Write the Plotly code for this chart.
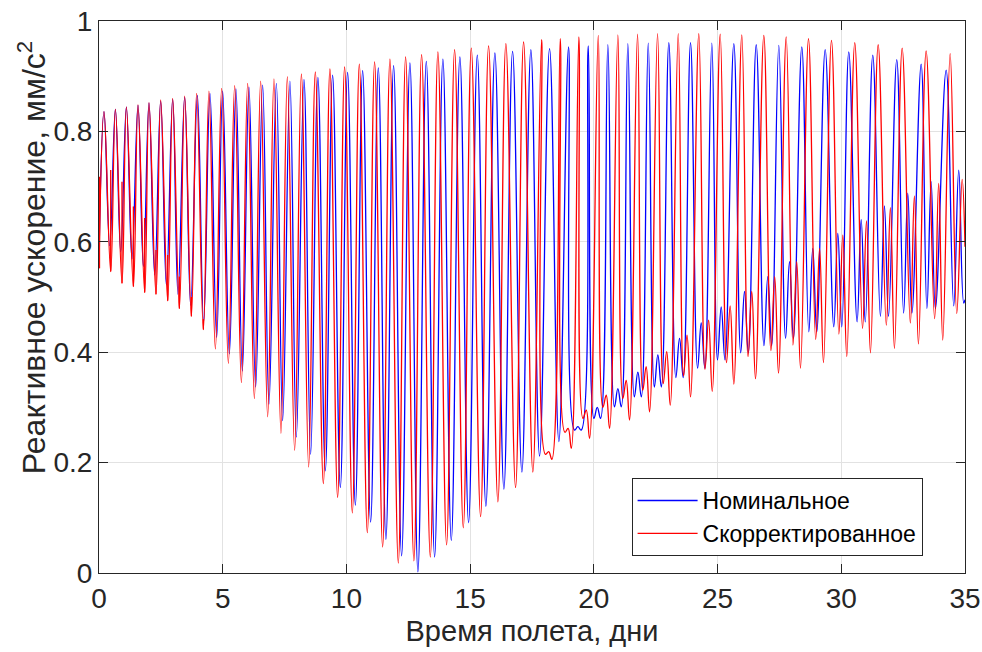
import plotly.graph_objects as go

# ---------------- data (days, mm/s^2) ----------------
# Nominal (blue)
BLUE_START = (0.0, 0.575)
BLUE_PEAK_T = [0.202, 0.663, 1.107, 1.576, 2.020, 2.493, 2.978, 3.463, 3.976, 4.485,
               4.998, 5.535, 6.061, 6.614, 7.168, 7.717, 8.283, 8.848, 9.442, 10.048,
               10.655, 11.289, 11.907, 12.566, 13.228, 13.899, 14.586, 15.289, 16.000, 16.715,
               17.455, 18.210, 18.978, 19.774, 20.566, 21.374, 22.198, 23.030, 23.907, 24.768,
               25.657, 26.562, 27.475, 28.404, 29.349, 30.303, 31.273, 32.242, 33.228, 34.238]
BLUE_PEAK_V = [0.836, 0.840, 0.844, 0.847, 0.851, 0.855, 0.858, 0.862, 0.865, 0.869,
               0.873, 0.877, 0.880, 0.884, 0.887, 0.891, 0.894, 0.898, 0.902, 0.907,
               0.910, 0.915, 0.919, 0.924, 0.927, 0.931, 0.935, 0.938, 0.942, 0.945,
               0.948, 0.950, 0.953, 0.955, 0.957, 0.959, 0.960, 0.961, 0.961, 0.960,
               0.959, 0.957, 0.956, 0.953, 0.948, 0.944, 0.938, 0.930, 0.922, 0.911]
BLUE_TROUGH_T = [0.432, 0.877, 1.333, 1.794, 2.251, 2.723, 3.192, 3.705, 4.230, 4.756,
                 5.269, 5.794, 6.331, 6.869, 7.422, 7.976, 8.554, 9.147, 9.754, 10.360,
                 10.978, 11.596, 12.230, 12.889, 13.564, 14.238, 14.937, 15.636, 16.364, 17.091,
                 17.806, 18.586, 19.354, 20.137, 20.970, 21.778, 22.586, 23.463, 24.339, 25.147,
                 26.089, 27.030, 27.907, 28.848, 29.859, 30.804, 31.745, 32.687, 33.632]
BLUE_TROUGH_V = [0.593, 0.582, 0.569, 0.555, 0.540, 0.522, 0.505, 0.485, 0.455, 0.427,
                 0.397, 0.366, 0.337, 0.306, 0.276, 0.246, 0.215, 0.185, 0.155, 0.123,
                 0.092, 0.061, 0.031, 0.002, 0.029, 0.059, 0.091, 0.121, 0.152, 0.183,
                 0.212, 0.238, 0.259, 0.280, 0.301, 0.319, 0.337, 0.354, 0.371, 0.386,
                 0.399, 0.412, 0.425, 0.437, 0.446, 0.455, 0.465, 0.471, 0.479]
BLUE_BUMP_V = [None] * 32 + [0.265, 0.300, 0.334, 0.364, 0.395, 0.425, 0.453, 0.482, 0.510,
                             0.537, 0.564, 0.588, 0.615, 0.640, 0.665, 0.688, 0.709]
BLUE_TAIL_T = [34.545, 34.747, 34.949, 35.0]
BLUE_TAIL_V = [0.484, 0.730, 0.489, 0.495]

# Corrected (red)
RED_START = (0.0, 0.552)
RED_PEAK_T = [0.202, 0.663, 1.107, 1.576, 2.020, 2.493, 2.978, 3.463, 3.947, 4.444,
              4.958, 5.483, 6.008, 6.533, 7.071, 7.612, 8.178, 8.743, 9.333, 9.927,
              10.521, 11.139, 11.758, 12.392, 13.038, 13.697, 14.372, 15.046, 15.745, 16.444,
              17.160, 17.887, 18.642, 19.394, 20.178, 20.970, 21.766, 22.574, 23.410, 24.242,
              25.107, 25.980, 26.869, 27.774, 28.675, 29.604, 30.545, 31.491, 32.461, 33.430,
              34.400]
RED_PEAK_V = [0.836, 0.840, 0.844, 0.848, 0.852, 0.857, 0.860, 0.864, 0.869, 0.873,
              0.878, 0.883, 0.887, 0.891, 0.895, 0.899, 0.904, 0.908, 0.913, 0.917,
              0.922, 0.926, 0.931, 0.935, 0.939, 0.944, 0.948, 0.951, 0.955, 0.959,
              0.962, 0.966, 0.968, 0.971, 0.974, 0.975, 0.976, 0.977, 0.977, 0.977,
              0.976, 0.975, 0.974, 0.971, 0.968, 0.965, 0.961, 0.957, 0.951, 0.946,
              0.941]
RED_TROUGH_T = [0.473, 0.929, 1.390, 1.846, 2.303, 2.776, 3.248, 3.733, 4.218, 4.703,
                5.228, 5.754, 6.279, 6.816, 7.354, 7.907, 8.473, 9.067, 9.644, 10.238,
                10.844, 11.463, 12.097, 12.727, 13.390, 14.048, 14.723, 15.422, 16.121, 16.836,
                17.535, 18.303, 19.087, 19.826, 20.634, 21.442, 22.251, 23.087, 23.907, 24.784,
                25.657, 26.533, 27.463, 28.352, 29.281, 30.222, 31.180, 32.149, 33.119, 34.101]
RED_TROUGH_V = [0.546, 0.525, 0.519, 0.508, 0.505, 0.493, 0.479, 0.465, 0.441, 0.406,
                0.380, 0.345, 0.316, 0.283, 0.253, 0.222, 0.192, 0.162, 0.137, 0.109,
                0.073, 0.047, 0.018, 0.022, 0.029, 0.051, 0.082, 0.102, 0.129, 0.155,
                0.183, 0.206, 0.226, 0.244, 0.262, 0.277, 0.292, 0.304, 0.319, 0.329,
                0.342, 0.352, 0.362, 0.371, 0.381, 0.392, 0.399, 0.407, 0.415, 0.422]
RED_BUMP_V = [None] * 31 + [0.220, 0.262, 0.295, 0.322, 0.349, 0.374, 0.401, 0.431, 0.458,
                            0.484, 0.510, 0.537, 0.564, 0.588, 0.612, 0.638, 0.662, 0.683, 0.706]
RED_LEFT_MIN_V = [None] * 31 + [0.215, 0.255, 0.280, 0.300, 0.316, 0.331, 0.343, 0.357, 0.369,
                                0.381, 0.392, 0.403, 0.413, 0.423, 0.433, 0.443, 0.449, 0.453, 0.461]
RED_TAIL_T = [34.667, 34.885, 35.0]
RED_TAIL_V = [0.470, 0.713, 0.591]
# narrow spikes at the first troughs of the corrected profile
RED_SPIKE_T = [0.02, 0.473, 0.929, 1.390, 1.846, 2.303, 2.776, 3.248, 3.733, 4.218]
RED_SPIKE_LO = [0.552, 0.546, 0.525, 0.519, 0.508, 0.505, 0.493, 0.479, 0.465, 0.441]
RED_SPIKE_HI = [0.718, 0.730, 0.709, 0.664, 0.643, 0.585, 0.576, 0.537, 0.500, 0.460]

NAMES = ["Номинальное", "Скорректированное"]
X_TICKS = [0, 5, 10, 15, 20, 25, 30, 35]
Y_TICKS = [0, 0.2, 0.4, 0.6, 0.8, 1]
Y_TICK_TEXT = ["0", "0.2", "0.4", "0.6", "0.8", "1"]


def blue_path():
    xs, ys = [BLUE_START[0]], [BLUE_START[1]]
    n = len(BLUE_PEAK_T)
    for i in range(n):
        xs.append(BLUE_PEAK_T[i]); ys.append(BLUE_PEAK_V[i])
        if i < len(BLUE_TROUGH_T):
            t, v, b = BLUE_TROUGH_T[i], BLUE_TROUGH_V[i], BLUE_BUMP_V[i]
            if b is None:
                xs.append(t); ys.append(v)
            else:
                d = 0.17 * (BLUE_PEAK_T[i + 1] - BLUE_PEAK_T[i])
                xs += [t - d, t, t + d]
                ys += [v, b, v]
    xs += BLUE_TAIL_T; ys += BLUE_TAIL_V
    return xs, ys


def red_path():
    xs, ys = [RED_START[0]], [RED_START[1]]
    n = len(RED_PEAK_T)
    for i in range(n):
        xs.append(RED_PEAK_T[i]); ys.append(RED_PEAK_V[i])
        if i < len(RED_TROUGH_T):
            t, v, b, lm = RED_TROUGH_T[i], RED_TROUGH_V[i], RED_BUMP_V[i], RED_LEFT_MIN_V[i]
            if b is None:
                xs.append(t); ys.append(v)
            else:
                d = 0.17 * (RED_PEAK_T[i + 1] - RED_PEAK_T[i])
                xs += [t - 2 * d, t - d, t]
                ys += [lm, b, v]
    xs += RED_TAIL_T; ys += RED_TAIL_V
    return xs, ys


bx, by = blue_path()
rx, ry = red_path()

sx, sy = [], []
for t, lo, hi in zip(RED_SPIKE_T, RED_SPIKE_LO, RED_SPIKE_HI):
    sx += [t, t, None]
    sy += [lo, hi, None]

fig = go.Figure()
fig.add_trace(go.Scatter(x=bx, y=by, mode="lines", name=NAMES[0],
                         line=dict(color="#0000ff", width=1.3, shape="spline", smoothing=1.2)))
fig.add_trace(go.Scatter(x=sx, y=sy, mode="lines", showlegend=False, hoverinfo="skip",
                         line=dict(color="#ff0000", width=1.3)))
fig.add_trace(go.Scatter(x=rx, y=ry, mode="lines", name=NAMES[1],
                         line=dict(color="#ff0000", width=1.3, shape="spline", smoothing=1.2)))

axis_common = dict(showgrid=True, gridcolor="#e2e2e2", gridwidth=1, automargin=False,
                   showline=True, linecolor="#262626", linewidth=1, mirror="ticks",
                   ticks="inside", ticklen=9, tickcolor="#262626", tickwidth=1,
                   zeroline=False, tickfont=dict(size=28, color="#262626"))

fig.update_layout(
    width=982, height=652,
    margin=dict(l=99, r=17, t=21, b=79),
    plot_bgcolor="white", paper_bgcolor="white",
    font=dict(family="Liberation Sans, Arial, sans-serif", color="#262626"),
    xaxis=dict(range=[0, 35], tickvals=X_TICKS,
               title=dict(text="Время полета, дни", font=dict(size=29), standoff=8),
               **axis_common),
    yaxis=dict(range=[0, 1], tickvals=Y_TICKS, ticktext=Y_TICK_TEXT, **axis_common),
    legend=dict(x=0.615, y=0.172, xanchor="left", yanchor="top",
                bordercolor="#262626", borderwidth=1, bgcolor="white",
                font=dict(size=23, color="#000000"), itemwidth=60, tracegroupgap=0),
    showlegend=True,
    annotations=[dict(text="Реактивное ускорение, мм/с<sup>2</sup>", textangle=-90,
                      xref="paper", yref="paper", x=-0.0775, y=0.572,
                      xanchor="center", yanchor="middle", showarrow=False,
                      font=dict(size=32, color="#262626"))],
)

fig.write_html("out.html")
